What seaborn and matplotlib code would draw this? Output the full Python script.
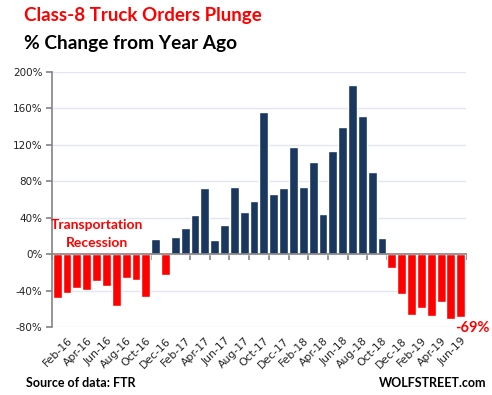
import matplotlib
matplotlib.use("Agg")
import matplotlib.pyplot as plt
import seaborn as sns
import pandas as pd

# monthly year-over-year change in Class-8 truck orders, Jan-16 .. Jun-19
months = pd.date_range("2016-01-01", periods=42, freq="MS").strftime("%b-%y").tolist()
pct_change = [-47.5, -42, -36.5, -38.7, -29, -34.4, -56.3, -25.6, -27.8, -46.4,
              17, -23,
              18.5, 28.8, 43.4, 73, 16, 32.5, 74, 46, 58.4, 156, 66, 72.7,
              117.6, 73.8, 101, 44, 113, 139.5, 185.5, 151.6, 90, 17.8,
              -14.6, -43, -66, -58.5, -67.3, -52, -70.6, -68.4]
yticks = [-80, -40, 0, 40, 80, 120, 160, 200]

sns.set_theme(style="white")
plt.rcParams['font.family'] = ['Lato', 'DejaVu Sans']

df = pd.DataFrame({"month": months, "pct": pct_change})
df["sign"] = ["up" if v >= 0 else "down" for v in df.pct]

fig = plt.figure(figsize=(4.92, 3.95), dpi=100)
ax = fig.add_axes([0.1063, 0.1714, 0.8402, 0.6463])
sns.barplot(data=df, x="month", y="pct", hue="sign",
            palette={"up": "#1a375f", "down": "#ff0000"},
            dodge=False, width=0.9, saturation=1, legend=False, ax=ax)

ax.set_xlim(-0.5, len(months) - 0.5)
ax.set_ylim(-80, 200)
ax.set_xlabel("")
ax.set_ylabel("")

# y axis
ax.set_yticks(yticks)
ax.set_yticklabels([f"{v}%" for v in yticks], fontsize=7.5, family="DejaVu Sans", color="#222222")
ax.tick_params(axis="y", left=True, length=4, color="#888888", pad=3)
ax.yaxis.grid(True, color="#e3e6f2", lw=1)
ax.set_axisbelow(True)

# x axis line at zero with tick marks between month pairs
for s in ["top", "right"]:
    ax.spines[s].set_visible(False)
ax.spines["left"].set_color("#888888")
ax.spines["bottom"].set_color("#888888")
ax.spines["bottom"].set_position(("data", 0))
ax.set_xticks([i - 0.5 for i in range(0, len(months) + 1, 2)])
ax.set_xticklabels([])
ax.tick_params(axis="x", bottom=True, length=4, color="#888888", direction="out")

# month labels along the bottom
sec = ax.secondary_xaxis("bottom")
sec.set_xticks(list(range(1, len(months), 2)))
sec.set_xticklabels(months[1::2], rotation=45, ha="right", rotation_mode="anchor",
                    fontsize=7.8, family="DejaVu Sans", color="#222222")
sec.tick_params(length=0, pad=6)
sec.spines["bottom"].set_visible(False)

# annotations
ax.text(4.0, 32.5, "Transportation", ha="center", va="center", color="#ff0000",
        fontsize=10, fontweight="bold")
ax.text(4.0, 12, "Recession", ha="center", va="center", color="#ff0000",
        fontsize=10, fontweight="bold")
ax.text(42.2, -80.5, "-69%", ha="center", va="center", color="#ff0000",
        fontsize=10.5, fontweight="bold", clip_on=False)

fig.text(24 / 492, 1 - 15 / 395, "Class-8 Truck Orders Plunge", color="#ff0000",
         fontsize=13.5, fontweight="bold", va="center")
fig.text(24 / 492, 1 - 44 / 395, "% Change from Year Ago", color="black",
         fontsize=13.8, fontweight="bold", va="center")
fig.text(26 / 492, 1 - 383 / 395, "Source of data: FTR", color="black",
         fontsize=9, fontweight="bold", va="center")
fig.text(379 / 492, 1 - 383 / 395, "WOLFSTREET.com", color="black",
         fontsize=9, fontweight="bold", va="center")

fig.savefig("out.png", dpi=100)
